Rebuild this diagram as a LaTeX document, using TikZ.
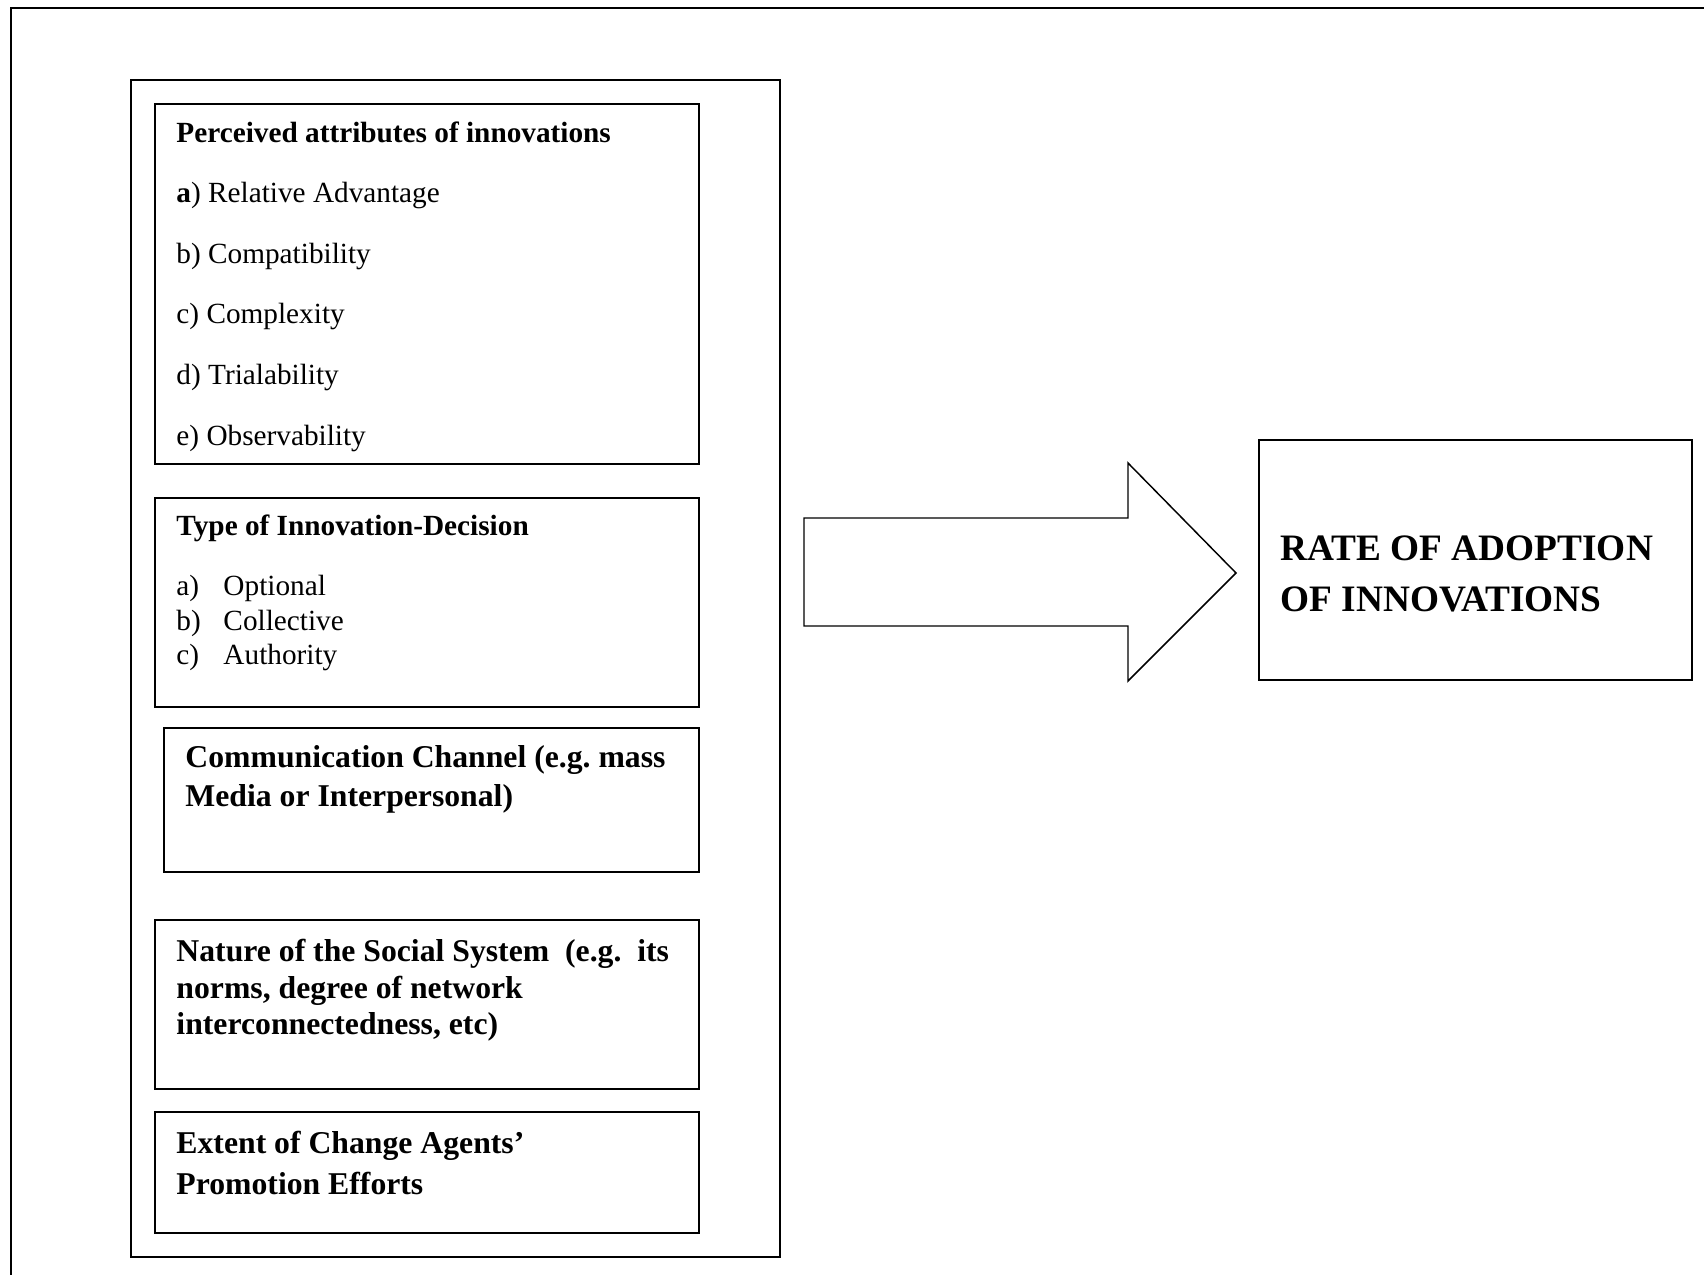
\documentclass[tikz,border=0pt]{standalone}
\usepackage{fontspec}
\setmainfont{Liberation Serif}
\frenchspacing

\begin{document}
\begin{tikzpicture}[x=0.41pt,y=-0.41pt,
		line/.style={line width=0.9pt},
		txt/.style={anchor=base west,inner sep=0pt},
		item/.style={txt,font=\fontsize{12}{14}\selectfont},
		head/.style={txt,font=\fontsize{12}{14}\selectfont\bfseries},
		bighead/.style={txt,font=\fontsize{13}{15}\selectfont\bfseries},
		rate/.style={txt,font=\fontsize{15.3}{18}\selectfont\bfseries}]
			%%%%% START %%%%%
			\useasboundingbox (0,0) rectangle (1704,1275);
			
			% page frame, open to the right and below
			\draw[line width=1.1pt] (11,1275) -- (11,8) -- (1704,8);
			
			% container of the factors
			\draw[line] (131,80) rectangle (780,1257);
			
			\draw[line] (155,104) rectangle (699,464);
			\node[head] (attrTitle) at (176,143) {Perceived attributes of innovations};
			\node[item] (attrA) at (176,203) {\textbf{a}) Relative Advantage};
			\node[item] (attrB) at (176,264) {b) Compatibility};
			\node[item] (attrC) at (176,324) {c) Complexity};
			\node[item] (attrD) at (176,385) {d) Trialability};
			\node[item] (attrE) at (176,446) {e) Observability};
			
			\draw[line] (155,498) rectangle (699,707);
			\node[head] (typeTitle) at (176,536) {Type of Innovation-Decision};
			\node[item] (typeA) at (176,596) {a)};
			\node[item] (typeB) at (176,630) {b)};
			\node[item] (typeC) at (176,664) {c)};
			\node[item] (typeOpt) at (223,596) {Optional};
			\node[item] (typeCol) at (223,630) {Collective};
			\node[item] (typeAut) at (223,664) {Authority};
			
			\draw[line] (164,728) rectangle (699,872);
			\node[bighead] (commA) at (185,768) {Communication Channel (e.g. mass};
			\node[bighead] (commB) at (185,806) {Media or Interpersonal)};
			
			\draw[line] (155,920) rectangle (699,1089);
			\node[bighead] (socA) at (176,961) {Nature of the Social System\ \ (e.g.\ \ its};
			\node[bighead] (socB) at (176,998) {norms, degree of network};
			\node[bighead] (socC) at (176,1034) {interconnectedness, etc)};
			
			\draw[line] (155,1112) rectangle (699,1233);
			\node[bighead] (agentA) at (176,1153) {Extent of Change Agents'};
			\node[bighead] (agentB) at (176,1194) {Promotion Efforts};
			
			% block arrow
			\draw[line width=0.6pt] (804,518) -- (1128,518) -- (1128,463) -- (1236,573)
				-- (1128,681) -- (1128,626) -- (804,626) -- cycle;
			
			% outcome
			\draw[line] (1259,440) rectangle (1692,680);
			\node[rate] (rateA) at (1280,561) {RATE OF ADOPTION};
			\node[rate] (rateB) at (1280,612) {OF INNOVATIONS};
			
			%%%%% END %%%%%
		\end{tikzpicture}
\end{document}
